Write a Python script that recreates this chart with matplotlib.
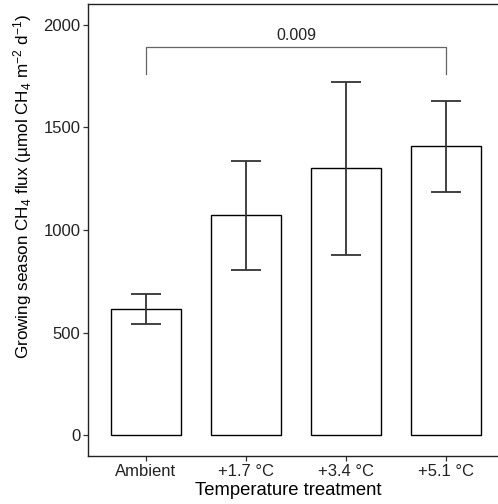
import matplotlib
matplotlib.use("Agg")
import matplotlib.pyplot as plt

plt.rcParams["font.family"] = ["Liberation Sans", "DejaVu Sans"]
plt.rcParams["mathtext.fontset"] = "custom"
plt.rcParams["mathtext.rm"] = "Liberation Sans"
plt.rcParams["mathtext.it"] = "Liberation Sans:italic"
plt.rcParams["mathtext.default"] = "regular"

# data
treatments = ["Ambient", "+1.7 °C", "+3.4 °C", "+5.1 °C"]
flux_mean = [616, 1071, 1301, 1408]
flux_upper = [690, 1338, 1719, 1630]
flux_lower = [544, 803, 879, 1187]
p_label = "0.009"
bracket_top = 1893
bracket_bottom = 1757

W, H = 498, 504
fig = plt.figure(figsize=(W / 100, H / 100), dpi=100)
fig.patch.set_facecolor("white")

# panel in pixel coords: left 88, right 508 (cut off), top 4, bottom 456
ax = fig.add_axes([88 / W, (H - 456) / H, 420 / W, 452 / H])

x = list(range(1, len(treatments) + 1))
ax.bar(x, flux_mean, width=0.7, color="white", edgecolor="black", linewidth=1.0, zorder=2)

err_lo = [m - l for m, l in zip(flux_mean, flux_lower)]
err_hi = [u - m for m, u in zip(flux_mean, flux_upper)]
ax.errorbar(x, flux_mean, yerr=[err_lo, err_hi], fmt="none", ecolor="#333333",
            elinewidth=1.3, capsize=10.5, capthick=1.3, zorder=3)

# significance bracket
ax.plot([x[0], x[0], x[-1], x[-1]],
        [bracket_bottom, bracket_top, bracket_top, bracket_bottom],
        color="#666666", linewidth=0.9, zorder=3)
ax.text((x[0] + x[-1]) / 2, bracket_top + 18, p_label, ha="center", va="bottom",
        fontsize=11.5, color="#222222")

ax.set_xlim(0.42, 4.62)
ax.set_ylim(-100, 2100)
ax.set_xticks(x)
ax.set_xticklabels(treatments)
ax.set_yticks([0, 500, 1000, 1500, 2000])

ax.tick_params(axis="both", direction="out", length=3.5, width=0.9, color="#333333",
               labelsize=12, labelcolor="#222222", pad=2)

for side in ["left", "bottom", "top"]:
    ax.spines[side].set_color("#222222")
    ax.spines[side].set_linewidth(1.0)
ax.spines["right"].set_visible(False)

ax.set_xlabel("Temperature treatment", fontsize=13.3, color="black")
ax.set_ylabel("Growing season CH$_4$ flux (µmol CH$_4$ m$^{-2}$ d$^{-1}$)",
              fontsize=12.3, color="black")
ax.xaxis.set_label_coords(200 / 420, -26 / 452, transform=ax.transAxes)
ax.yaxis.set_label_coords(-54 / 420, (456 - 186) / 452, transform=ax.transAxes)

fig.savefig("out.png", dpi=100, facecolor="white")
